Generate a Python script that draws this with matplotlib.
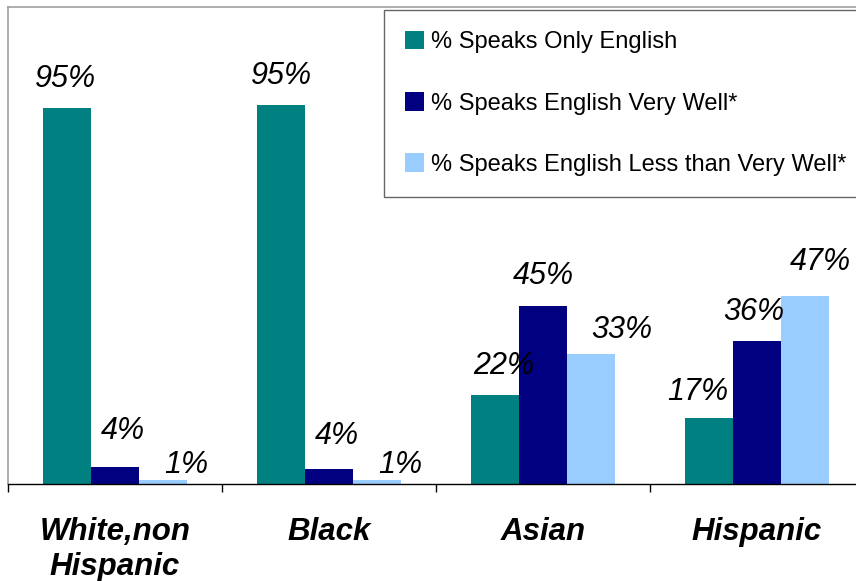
import matplotlib.pyplot as plt
from matplotlib import font_manager
import numpy as np

groups = ["White,non\nHispanic", "Black", "Asian", "Hispanic"]
series = ["% Speaks Only English", "% Speaks English Very Well*",
          "% Speaks English Less than Very Well*"]
only_english = [94.7, 95.4, 22.4, 16.6]
very_well = [4.3, 3.8, 44.8, 36.0]
less_well = [1.0, 1.0, 32.8, 47.3]
colors = ["#008080", "#000080", "#99CCFF"]

# label nudges (points) to match the hand-placed labels of the original
label_dx = [[-1, 0, 6, -8], [6, 6, 0, -2], [17, 17, 22, 11]]
label_dy = [[10, 10, 10, 8], [15, 13, 11, 10], [0, 0, 6, 14]]

plt.rcParams['font.family'] = ['Liberation Sans', 'DejaVu Sans']

names = {f.name for f in font_manager.fontManager.ttflist}
if 'Liberation Sans Narrow' in names:
    leg_font = {'family': 'Liberation Sans Narrow', 'size': 21}
else:
    leg_font = {'family': 'Liberation Sans', 'size': 17}

fig = plt.figure(figsize=(8.56, 5.81), dpi=100)
ax = fig.add_axes([8 / 856, 1 - 484 / 581, 1.0, 477 / 581])

x = np.arange(len(groups))
w = 0.224
data = [only_english, very_well, less_well]
for i, vals in enumerate(data):
    xs = x + (i - 1) * w
    ax.bar(xs, vals, w, color=colors[i], label=series[i])
    for j, v in enumerate(vals):
        ax.annotate(f"{v:.0f}%", (xs[j], v), xytext=(label_dx[i][j], label_dy[i][j]),
                    textcoords="offset points", ha="center", va="bottom",
                    fontsize=22, style="italic")

ax.set_xlim(-0.5, 3.5)
ax.set_ylim(0, 120)
ax.set_yticks([])
ax.set_xticks(x)
ax.set_xticklabels(groups, fontsize=22.5, fontweight="bold", style="italic")
ax.tick_params(axis="x", which="major", length=0, pad=24)
ax.set_xticks(np.arange(-0.5, 4.0, 1.0), minor=True)
ax.tick_params(axis="x", which="minor", length=6, width=1, color="black")

for s in ["left", "top", "right"]:
    ax.spines[s].set_color("#a0a0a0")
    ax.spines[s].set_linewidth(1.2)
ax.spines["bottom"].set_color("black")
ax.spines["bottom"].set_linewidth(1)

fs = leg_font['size']
leg = ax.legend(loc="upper left", bbox_to_anchor=(384 / 856, 1 - 10 / 581),
                bbox_transform=fig.transFigure, prop=leg_font, frameon=True,
                fancybox=False, borderaxespad=0, borderpad=15 / fs,
                handlelength=14 / fs, handleheight=14 / fs, handletextpad=5 / fs,
                labelspacing=28 / fs)
leg.get_frame().set_edgecolor("#404040")
leg.get_frame().set_linewidth(1)

fig.savefig("out.png", dpi=100)
